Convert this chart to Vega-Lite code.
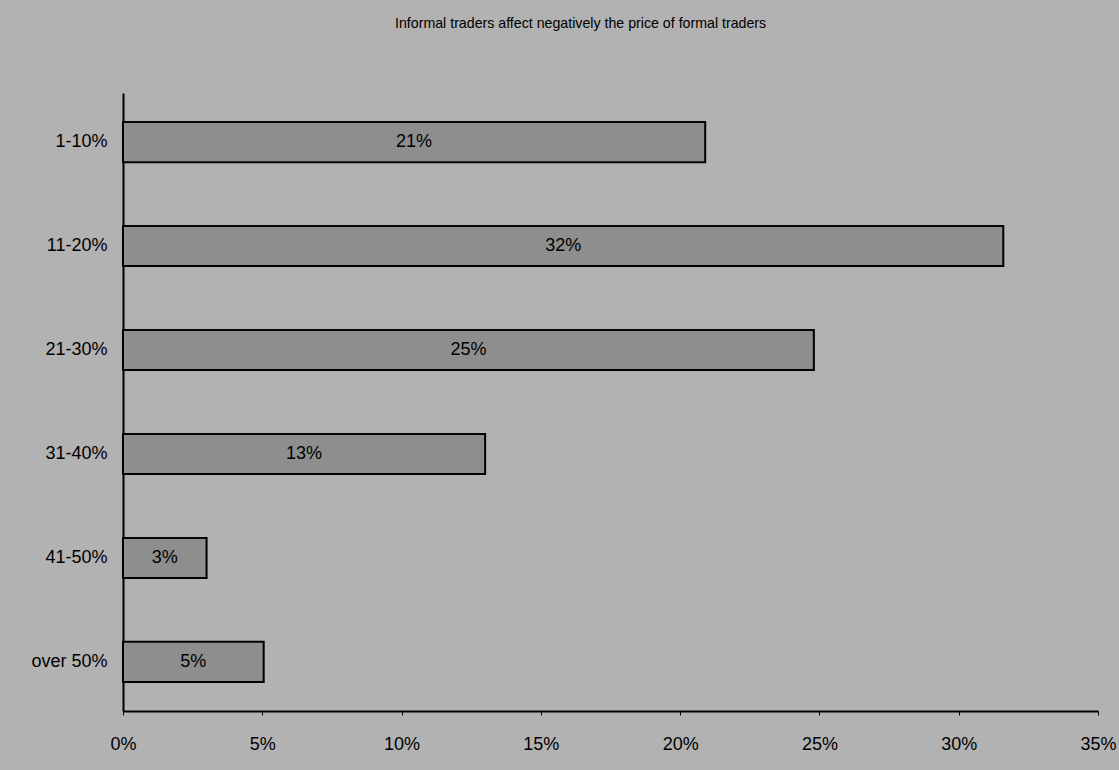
{
  "$schema": "https://vega.github.io/schema/vega-lite/v6.json",
  "width": 975,
  "height": 618,
  "autosize": "none",
  "padding": {"left": 123, "top": 93, "right": 21, "bottom": 59},
  "background": "#b2b2b2",
  "config": {
    "font": "Liberation Sans",
    "view": {"stroke": null},
    "axis": {
      "domainColor": "#000000",
      "domainWidth": 2,
      "grid": false,
      "labelColor": "#000000",
      "labelFontSize": 18,
      "labelFont": "Liberation Sans",
      "tickColor": "#000000"
    }
  },
  "title": {
    "text": "Informal traders affect negatively the price of formal traders",
    "anchor": "start",
    "frame": "group",
    "dx": 272,
    "offset": 62,
    "fontSize": 14.2,
    "fontWeight": "normal",
    "color": "#000000",
    "font": "Liberation Sans"
  },
  "data": {
    "values": [
      {"range": "1-10%", "value": 20.9, "label": "21%"},
      {"range": "11-20%", "value": 31.6, "label": "32%"},
      {"range": "21-30%", "value": 24.8, "label": "25%"},
      {"range": "31-40%", "value": 13.0, "label": "13%"},
      {"range": "41-50%", "value": 3.0, "label": "3%"},
      {"range": "over 50%", "value": 5.05, "label": "5%"}
    ]
  },
  "encoding": {
    "y": {
      "field": "range",
      "type": "nominal",
      "sort": null,
      "title": null,
      "scale": {"paddingInner": 0.615, "paddingOuter": 0.28},
      "axis": {"ticks": false, "labelPadding": 16}
    }
  },
  "layer": [
    {
      "mark": {"type": "bar", "fill": "#8e8e8e", "stroke": "#000000", "strokeWidth": 2},
      "encoding": {
        "x": {
          "field": "value",
          "type": "quantitative",
          "title": null,
          "scale": {"domain": [0, 35]},
          "axis": {
            "values": [0, 5, 10, 15, 20, 25, 30, 35],
            "labelExpr": "datum.value + '%'",
            "labelFlush": false,
            "tickSize": 4,
            "labelPadding": 20
          }
        }
      }
    },
    {
      "transform": [{"calculate": "datum.value / 2", "as": "mid"}],
      "mark": {"type": "text", "fontSize": 18, "color": "#000000", "font": "Liberation Sans"},
      "encoding": {
        "x": {"field": "mid", "type": "quantitative"},
        "text": {"field": "label"}
      }
    }
  ]
}
